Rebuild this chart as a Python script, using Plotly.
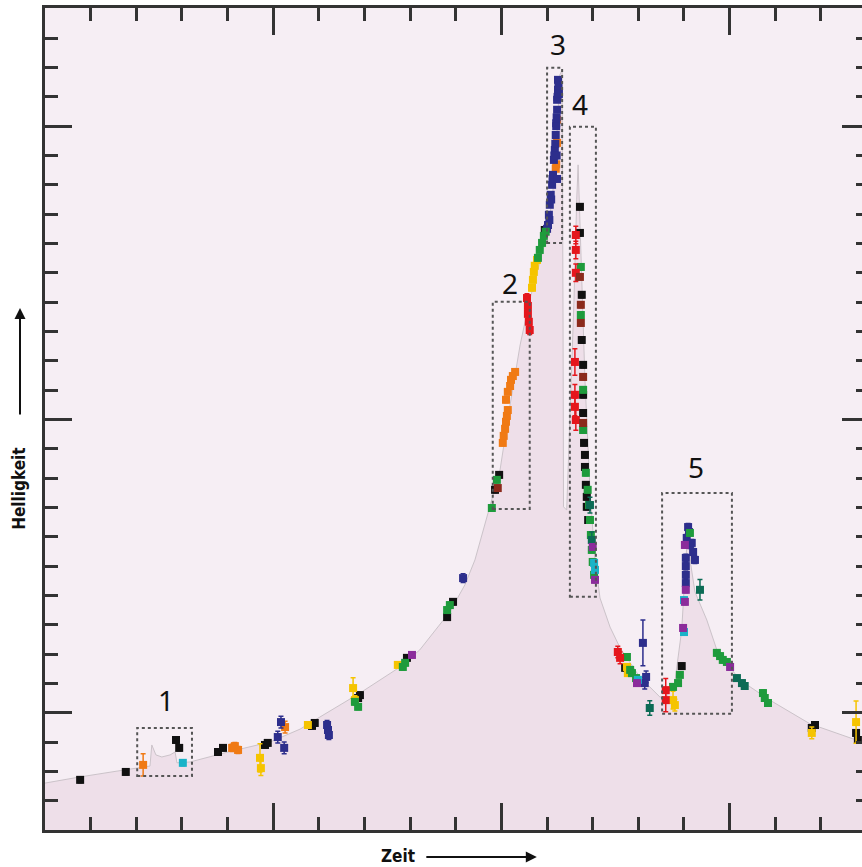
import plotly.graph_objects as go

# ---------------- model light curve (time, brightness) ----------------
model_t = [0.00, 0.77, 1.75, 2.30, 2.34, 2.43, 2.56, 2.74, 2.85, 2.89, 3.18, 4.01, 4.93, 5.59,
           6.02, 6.90, 7.78, 8.21, 8.87, 9.20, 9.42, 9.75, 9.97, 10.19, 10.41, 10.62, 10.84,
           11.02, 11.13, 11.22, 11.28, 11.33, 11.35, 11.36, 11.43, 11.50, 11.59, 11.65, 11.68,
           11.74, 11.83, 11.94, 12.05, 12.16, 12.38, 12.60, 13.03, 13.47, 13.60, 13.80, 13.95,
           14.04, 14.09, 14.15, 14.24, 14.50, 14.72, 15.22, 15.88, 16.76, 17.63, 17.90]
model_b = [1.60, 1.81, 2.05, 2.18, 2.90, 2.56, 2.49, 2.56, 2.66, 2.29, 2.32, 2.66, 3.00, 3.44,
           3.85, 4.67, 5.56, 6.14, 7.44, 8.36, 9.21, 11.08, 12.28, 14.50, 16.54, 18.08, 19.37,
           20.40, 21.83, 23.87, 25.75, 25.92, 17.39, 11.02, 10.91, 13.98, 18.08, 21.49, 22.68,
           19.78, 15.35, 11.60, 9.21, 7.91, 6.92, 6.21, 5.22, 4.54, 4.50, 5.05, 6.82,
           9.21, 10.30, 9.04, 8.12, 7.16, 6.14, 5.12, 4.43, 3.62, 3.14, 3.00]

# ---------------- observations per telescope ----------------
black_t = [0.77, 1.77, 2.87, 2.94, 3.79, 3.90, 4.82, 4.88, 5.91, 5.85, 6.90, 6.86, 7.93, 8.81, 8.94,
           9.86, 9.95, 10.95, 11.72, 11.72, 11.76, 11.76, 11.79, 11.79, 11.79, 11.81, 11.83, 11.83,
           11.85, 11.87, 11.87, 11.90, 12.71, 13.95, 16.80, 16.87, 17.77, 17.81]
black_b = [1.71, 1.98, 3.07, 2.80, 2.66, 2.80, 2.90, 2.97, 3.65, 3.55, 4.60, 4.50, 5.87, 7.26, 7.78,
           11.60, 12.11, 20.46, 21.25, 20.36, 18.25, 16.71, 15.86, 14.84, 14.22, 13.20, 12.79, 12.38,
           11.77, 11.36, 11.02, 10.57, 5.53, 5.59, 3.48, 3.58, 3.31, 3.07]

orange_t = [2.15, 4.10, 4.16, 4.23, 5.26, 10.03, 10.05, 10.08, 10.10, 10.12, 10.14,
            10.10, 10.14, 10.19, 10.21, 10.25, 10.30, 11.22, 11.22, 11.20, 11.19]
orange_b = [2.22, 2.80, 2.86, 2.73, 3.51, 13.20, 13.44, 13.68, 13.92, 14.12, 14.32,
            14.67, 14.94, 15.14, 15.35, 15.48, 15.62, 24.22, 23.43, 22.70, 22.55]
orange_e = [0.38, 0.12, 0.12, 0.12, 0.20, 0.10, 0.10, 0.10, 0.10, 0.10, 0.10,
            0.10, 0.10, 0.10, 0.10, 0.10, 0.10, 0.08, 0.08, 0.08, 0.08]

yellow_t = [4.71, 4.73, 5.76, 6.75, 6.79, 7.73, 10.67, 10.69, 10.71, 10.73, 10.78,
            12.75, 12.77, 13.76, 13.80, 16.80, 17.77]
yellow_b = [2.46, 2.11, 3.58, 4.84, 4.43, 5.63, 18.49, 18.76, 19.03, 19.24, 19.44,
            5.56, 5.35, 4.43, 4.26, 3.31, 3.68]
yellow_e = [0.48, 0.25, 0.10, 0.35, 0.15, 0.10, 0.10, 0.10, 0.10, 0.10, 0.10,
            0.10, 0.10, 0.30, 0.20, 0.20, 0.72]

blue_t = [5.17, 5.10, 5.24, 6.20, 6.18, 6.22, 9.16,
          11.02, 11.04, 11.06, 11.08, 11.11, 11.13, 11.15, 11.17, 11.19, 11.20, 11.22, 11.22, 11.24, 11.24,
          11.00, 11.05, 11.09, 11.12, 11.16, 11.18, 11.21, 11.23, 11.25, 11.26, 11.20, 11.21, 11.22,
          13.10, 13.17, 13.14,
          14.04, 14.04, 14.04, 14.04, 14.06, 14.09, 14.11, 14.13, 14.17, 14.20, 14.24]
blue_b = [3.68, 3.17, 2.80, 3.41, 3.58, 3.24, 8.59,
          20.63, 20.98, 21.32, 21.66, 22.00, 22.34, 22.85, 23.19, 23.70, 24.10, 24.56, 24.90, 25.24, 25.58,
          20.50, 20.80, 21.50, 22.20, 23.00, 23.40, 24.30, 25.00, 25.40, 25.10, 24.00, 23.00, 22.20,
          6.38, 5.22, 5.01,
          8.42, 8.70, 9.00, 9.28, 9.96, 10.33, 10.16, 9.72, 9.79, 9.48, 9.21]
blue_e = [0.20, 0.20, 0.20, 0.15, 0.15, 0.15, 0.15,
          0.08, 0.08, 0.08, 0.08, 0.08, 0.08, 0.08, 0.08, 0.08, 0.08, 0.08, 0.08, 0.08, 0.08,
          0.08, 0.08, 0.08, 0.08, 0.08, 0.08, 0.08, 0.08, 0.08, 0.08, 0.08, 0.08, 0.08,
          0.78, 0.20, 0.20,
          0.12, 0.12, 0.12, 0.12, 0.12, 0.12, 0.12, 0.12, 0.12, 0.12, 0.12]

green_t = [6.86, 6.79, 7.84, 7.89, 8.81, 8.87, 9.79, 9.90,
           10.80, 10.84, 10.89, 10.93, 10.97,
           11.74, 11.74, 11.79, 11.79, 11.85, 11.89, 11.92, 11.94, 11.96, 11.98, 12.00, 12.03,
           12.75, 12.82, 12.86, 12.95, 13.76, 13.87, 13.91, 14.13,
           14.72, 14.79, 14.85, 14.94, 15.73, 15.77, 15.84]
green_b = [4.20, 4.37, 5.56, 5.70, 7.50, 7.67, 10.98, 11.94,
           19.51, 19.78, 20.02, 20.26, 20.40,
           19.20, 17.56, 15.01, 13.64, 12.18, 11.60, 11.08, 10.57, 10.06, 9.55, 9.14, 8.70,
           5.90, 5.46, 5.35, 5.18, 4.88, 5.01, 5.29, 10.13,
           6.04, 5.93, 5.80, 5.73, 4.67, 4.50, 4.33]

teal_t = [11.94, 11.98, 13.25, 14.35, 15.16, 15.27, 15.33]
teal_b = [11.08, 9.89, 4.16, 8.19, 5.18, 5.01, 4.91]
teal_e = [0.27, 0.27, 0.25, 0.35, 0.10, 0.10, 0.10]

red_t = [10.56, 10.58, 10.58, 10.60, 10.62, 11.63, 11.63, 11.63, 11.61, 11.61, 11.61, 11.63,
         12.55, 12.60, 13.60, 13.60]
red_b = [18.14, 17.87, 17.60, 17.33, 17.05, 20.29, 19.78, 19.00, 15.96, 14.84, 14.43, 13.98,
         6.07, 5.87, 4.77, 4.43]
red_e = [0.15, 0.15, 0.15, 0.15, 0.15, 0.30, 0.30, 0.30, 0.45, 0.35, 0.30, 0.35,
         0.20, 0.20, 0.40, 0.40]

cyan_t = [3.02, 12.03, 12.05, 12.99, 14.00, 14.00]
cyan_b = [2.29, 9.11, 8.87, 5.12, 6.75, 7.84]

purple_t = [8.04, 12.00, 12.05, 12.97, 13.98, 14.02, 14.02, 14.04, 15.01]
purple_b = [5.97, 9.65, 8.53, 5.01, 6.89, 7.78, 9.72, 8.19, 5.56]

brown_t = [9.92, 11.72, 11.74, 11.74, 11.79, 11.79]
brown_b = [11.66, 18.86, 17.91, 17.29, 15.45, 13.88]

# ---------------- highlighted episodes ----------------
box_labels = ["1", "2", "3", "4", "5"]
box_t0 = [2.02, 9.81, 11.00, 11.50, 13.52]
box_t1 = [3.22, 10.62, 11.33, 12.07, 15.05]
box_b0 = [1.84, 10.95, 20.02, 7.95, 3.96]
box_b1 = [3.48, 18.01, 25.99, 23.98, 11.49]
label_t = [2.65, 10.19, 11.24, 11.72, 14.26]
label_b = [4.43, 18.66, 26.81, 24.76, 12.38]

fig = go.Figure()

fig.add_trace(go.Scatter(x=model_t, y=model_b, mode="lines", fill="tozeroy",
                         fillcolor="#eedfe9", line=dict(color="#cbc3c9", width=1),
                         hoverinfo="skip"))

series = [
    (black_t, black_b, None, "#111111"),
    (orange_t, orange_b, orange_e, "#f07a14"),
    (yellow_t, yellow_b, yellow_e, "#f5c400"),
    (blue_t, blue_b, blue_e, "#2d2e8c"),
    (green_t, green_b, None, "#1e9b3c"),
    (teal_t, teal_b, teal_e, "#0c6b55"),
    (red_t, red_b, red_e, "#e5161c"),
    (cyan_t, cyan_b, None, "#1ab3c8"),
    (purple_t, purple_b, None, "#8b2c9b"),
    (brown_t, brown_b, None, "#8b2a1c"),
]
for t, b, e, c in series:
    err = e if e is not None else [0.1] * len(t)
    fig.add_trace(go.Scatter(x=t, y=b, mode="markers",
                             marker=dict(symbol="square", size=8, color=c, line=dict(width=0)),
                             error_y=dict(type="data", array=err, color=c, thickness=1.5, width=2.5)))

for i, lab in enumerate(box_labels):
    fig.add_shape(type="rect", x0=box_t0[i], x1=box_t1[i], y0=box_b0[i], y1=box_b1[i],
                  xref="x", yref="y", line=dict(color="#555555", width=2, dash="dot"))
    fig.add_annotation(x=label_t[i], y=label_b[i], text=lab, showarrow=False,
                       font=dict(family="Noto Sans, Open Sans, sans-serif", size=28, color="#111111"))

title_font = dict(family="Liberation Sans Narrow, DejaVu Sans Condensed, sans-serif",
                  size=17, color="#111111")
# axis titles with arrows
fig.add_annotation(xref="paper", yref="paper", x=0, y=0.415, xshift=-26, text="<b>Helligkeit</b>",
                   textangle=-90, showarrow=False, xanchor="center", yanchor="middle",
                   font=title_font)
fig.add_annotation(xref="paper", yref="paper", x=0, y=0.635, xshift=-25, text="",
                   showarrow=True, ax=0, ay=108, arrowhead=2, arrowsize=1.1, arrowwidth=2,
                   arrowcolor="#111111")
fig.add_annotation(xref="paper", yref="paper", x=0.432, y=0, yshift=-26, text="<b>Zeit</b>",
                   showarrow=False, xanchor="center", yanchor="middle", font=title_font)
fig.add_annotation(xref="paper", yref="paper", x=0.602, y=0, yshift=-27, text="",
                   showarrow=True, ax=-112, ay=0, arrowhead=2, arrowsize=1.1, arrowwidth=2,
                   arrowcolor="#111111")

fig.update_layout(
    width=862, height=867, showlegend=False,
    margin=dict(l=45, r=0, t=8, b=37),
    paper_bgcolor="white", plot_bgcolor="#f6eef4",
    xaxis=dict(range=[0, 17.9], showgrid=False, zeroline=False, showticklabels=False,
               showline=True, linecolor="#333333", linewidth=3, mirror="ticks",
               ticks="inside", tick0=0, dtick=5, ticklen=27, tickwidth=2.5, tickcolor="#333333",
               minor=dict(ticks="inside", tick0=0, dtick=1, ticklen=13, tickwidth=2.5,
                          tickcolor="#333333", showgrid=False)),
    yaxis=dict(range=[0, 28.03], showgrid=False, zeroline=False, showticklabels=False,
               showline=True, linecolor="#333333", linewidth=3, mirror=False,
               ticks="inside", tick0=4, dtick=10, ticklen=27, tickwidth=2.5, tickcolor="#333333",
               minor=dict(ticks="inside", tick0=0, dtick=1, ticklen=13, tickwidth=2.5,
                          tickcolor="#333333", showgrid=False)),
    yaxis2=dict(range=[0, 28.03], overlaying="y", side="right", showgrid=False, zeroline=False,
                showticklabels=False, showline=False,
                ticks="inside", tick0=4, dtick=10, ticklen=20, tickwidth=2.5, tickcolor="#333333",
                minor=dict(ticks="inside", tick0=0, dtick=1, ticklen=6, tickwidth=2.5,
                           tickcolor="#333333", showgrid=False)),
)
# invisible trace to activate the right axis
fig.add_trace(go.Scatter(x=[0], y=[0], yaxis="y2", mode="markers", marker=dict(opacity=0),
                         hoverinfo="skip"))

fig.write_html("out.html", config={"displayModeBar": False},
               post_script="document.body.style.margin='0px';document.body.style.overflow='hidden';")
